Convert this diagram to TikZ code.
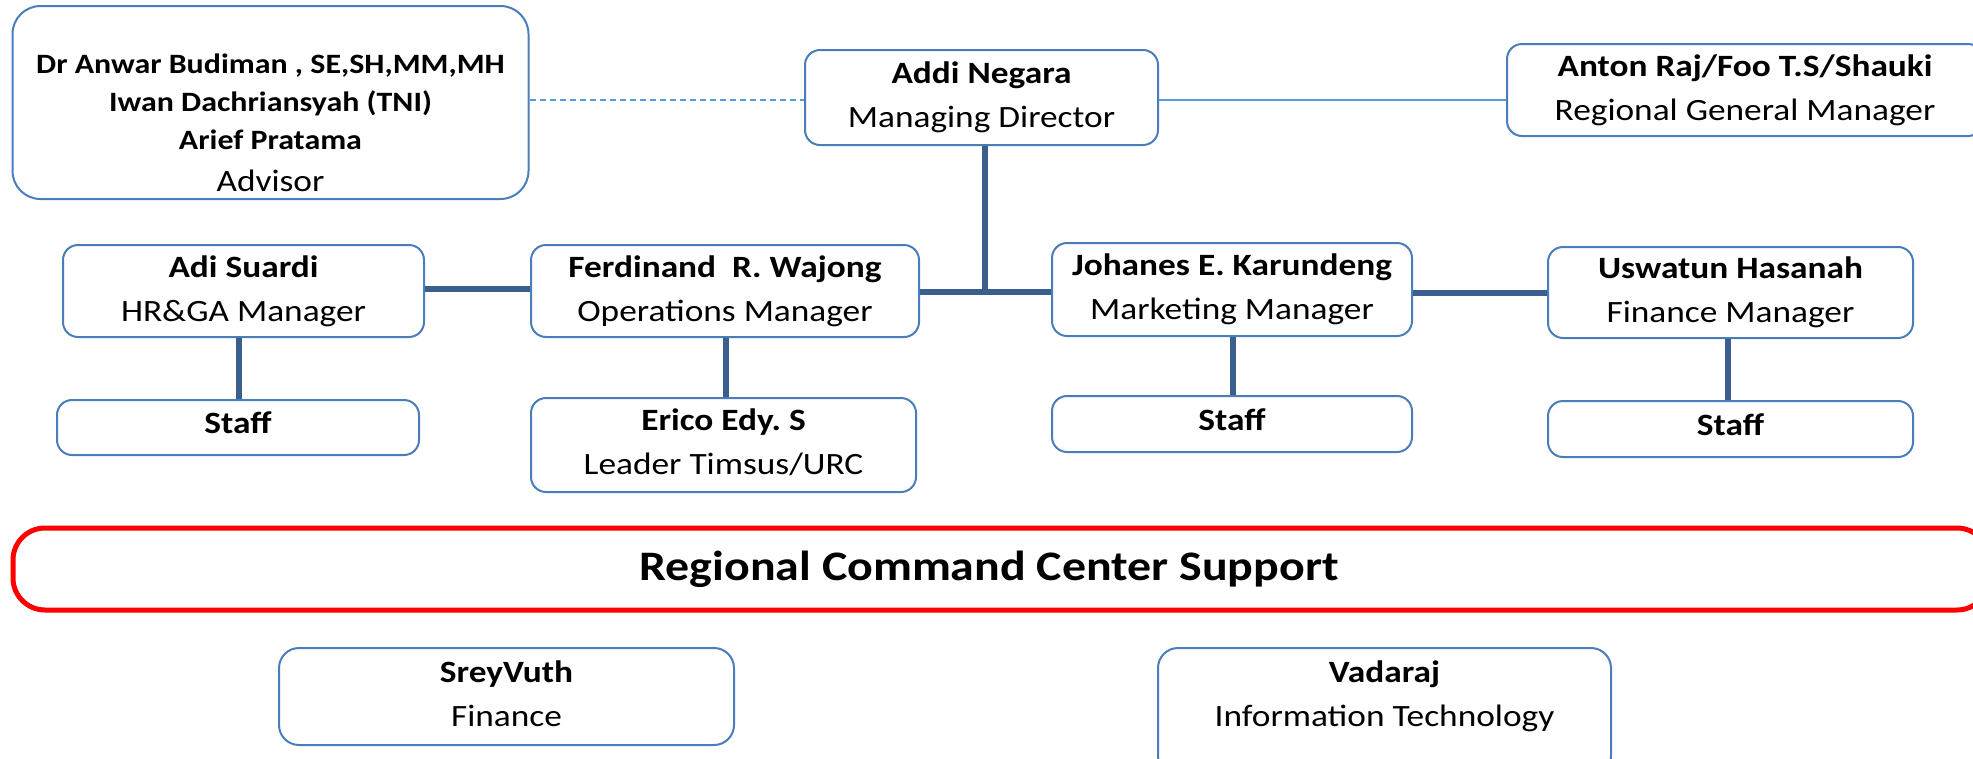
\documentclass[tikz,border=0pt]{standalone}
\usepackage{fontspec}
\setmainfont{Carlito}[FakeStretch=1.14]
\usetikzlibrary{calc}
\frenchspacing
\definecolor{boxblue}{HTML}{4A7EBB}
\definecolor{linkblue}{HTML}{3A5F8E}
\definecolor{lightblue}{HTML}{5B9BD5}
\definecolor{rccred}{HTML}{FF0000}
\tikzset{
  box/.style={draw=boxblue, line width=2pt, rounded corners=15pt, fill=white,
    align=center, inner sep=0pt, font=\fontsize{31}{38}\selectfont},
  txt/.style={align=center, inner sep=0pt, font=\fontsize{31}{38}\selectfont},
  conn/.style={draw=linkblue, line width=6.5pt},
  thinconn/.style={draw=lightblue, line width=1.5pt},
  dashconn/.style={draw=lightblue, line width=1.5pt, dash pattern=on 6pt off 4pt},
  rccbox/.style={draw=rccred, line width=5pt, rounded corners=32pt, align=center,
    inner sep=0pt, font=\fontsize{42}{50}\selectfont\bfseries}
}
\newcommand{\advb}[1]{{\fontsize{28}{38}\selectfont\bfseries #1}}
\begin{document}
\begin{tikzpicture}[x=1pt,y=-1pt]
\useasboundingbox (0,0) rectangle (1973,758);
\coordinate (j) at (985,292);
% top row
\node[box, rounded corners=28pt, minimum width=516pt, minimum height=193pt] (adv) at (270.5,102.5) {};
\node[txt] (advt) at ($(adv.center)+(0,20)$) {\advb{Dr Anwar Budiman , SE,SH,MM,MH}\\\advb{Iwan Dachriansyah (TNI)}\\\advb{Arief Pratama}\\[4pt]Advisor};
\node[box, minimum width=353pt, minimum height=95pt] (md) at (981.5,97.5) {\bfseries Addi Negara\\[6pt]Managing Director};
\node[box, minimum width=476pt, minimum height=92pt] (rgm) at (1745,90) {\bfseries Anton Raj/Foo T.S/Shauki\\[6pt]Regional General Manager};
% managers
\node[box, minimum width=361pt, minimum height=92pt] (hr) at (243.5,291) {\bfseries Adi Suardi\\[6pt]HR\&GA Manager};
\node[box, minimum width=388pt, minimum height=92pt] (ops) at (725,291) {\bfseries Ferdinand\ \ R. Wajong\\[6pt]Operations Manager};
\node[box, minimum width=360pt, minimum height=93pt] (mkt) at (1232,289.5) {\bfseries Johanes E. Karundeng\\[6pt]Marketing Manager};
\node[box, minimum width=365pt, minimum height=91pt] (fin) at (1730.5,292.5) {\bfseries Uswatun Hasanah\\[6pt]Finance Manager};
% staff row
\node[box, minimum width=362pt, minimum height=55pt] (s1) at (238,427.5) {\raisebox{9pt}{\bfseries Staff}};
\node[box, minimum width=385pt, minimum height=94pt] (erico) at (723.5,445) {\raisebox{4pt}{\begin{tabular}{@{}c@{}}\bfseries Erico Edy. S\\[6pt]Leader Timsus/URC\end{tabular}}};
\node[box, minimum width=360pt, minimum height=56pt] (s2) at (1232,424) {\raisebox{8pt}{\bfseries Staff}};
\node[box, minimum width=365pt, minimum height=56pt] (s3) at (1730.5,429) {\raisebox{9pt}{\bfseries Staff}};
% regional command center
\node[rccbox, minimum width=1976pt, minimum height=82pt] (rcc) at (1001,569) {Regional Command Center Support\hspace*{24pt}};
\node[box, rounded corners=20pt, minimum width=455pt, minimum height=97pt] (srey) at (506.5,696.5) {\raisebox{3pt}{\begin{tabular}{@{}c@{}}\bfseries SreyVuth\\[6pt]Finance\end{tabular}}};
\node[box, rounded corners=20pt, minimum width=453pt, minimum height=128pt] (vad) at (1384.5,712) {};
\node[txt] (vadt) at (1384.5,696) {\bfseries Vadaraj\\[6pt]Information Technology};
% connectors
\draw[dashconn] (adv.east |- 0,100) -- (md.west |- 0,100);
\draw[thinconn] (md.east |- 0,100) -- (rgm.west |- 0,100);
\draw[conn] (md.south -| j) -- (j);
\draw[conn] (ops.east |- j) -- (mkt.west |- j);
\draw[conn] (hr.east |- 0,289) -- (ops.west |- 0,289);
\draw[conn] (mkt.east |- 0,293) -- (fin.west |- 0,293);
\draw[conn] (hr.south -| 239,0) -- (s1.north -| 239,0);
\draw[conn] (ops.south -| 726,0) -- (erico.north -| 726,0);
\draw[conn] (mkt.south -| 1233,0) -- (s2.north -| 1233,0);
\draw[conn] (fin.south -| 1728,0) -- (s3.north -| 1728,0);
\end{tikzpicture}
\end{document}
